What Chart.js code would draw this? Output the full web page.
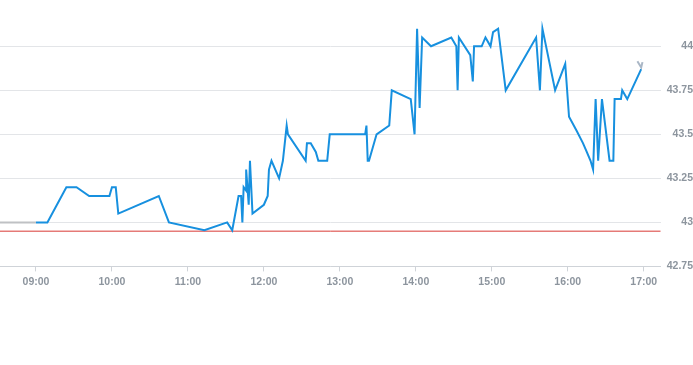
<!DOCTYPE html>
<html lang="en">

<head>
    <meta charset="UTF-8">
    <title>Intraday</title>
    <script src="https://cdn.jsdelivr.net/npm/chart.js"></script>
    <style>
        html, body {
            margin: 0;
            padding: 0;
            background-color: #ffffff;
        }

        .div-grafico {
            position: relative;
            width: 693px;
            height: 365px;
        }
    </style>
</head>

<body>
    <div class="div-grafico">
        <canvas id="intraday"></canvas>
    </div>

<script>
    // trading session (blue)
    var horas = ['09:00', '09:09', '09:24', '09:32', '09:42', '09:58', '10:00', '10:03', '10:05', '10:37',
        '10:45', '11:13', '11:31', '11:35', '11:40', '11:42', '11:43', '11:44', '11:46', '11:46',
        '11:48', '11:49', '11:51', '12:00', '12:03', '12:04', '12:06', '12:12', '12:15', '12:18',
        '12:19', '12:33', '12:34', '12:37', '12:41', '12:43', '12:50', '12:52', '13:20', '13:21',
        '13:22', '13:23', '13:29', '13:39', '13:41', '13:56', '13:59', '14:01', '14:03', '14:05',
        '14:12', '14:28', '14:32', '14:33', '14:34', '14:43', '14:45', '14:46', '14:52', '14:55',
        '14:59', '15:01', '15:05', '15:11', '15:35', '15:38', '15:40', '15:50', '15:58', '16:01',
        '16:07', '16:12', '16:15', '16:18', '16:20', '16:22', '16:24', '16:27', '16:33', '16:36',
        '16:37', '16:42', '16:43', '16:47', '16:58'];
    var precos = [43.00, 43.00, 43.20, 43.20, 43.15, 43.15, 43.20, 43.20, 43.05, 43.15,
        43.00, 42.955, 43.00, 42.955, 43.15, 43.15, 43.00, 43.20, 43.18, 43.30,
        43.10, 43.35, 43.05, 43.10, 43.15, 43.30, 43.35, 43.25, 43.35, 43.55,
        43.50, 43.35, 43.45, 43.45, 43.40, 43.35, 43.35, 43.50, 43.50, 43.55,
        43.35, 43.35, 43.50, 43.55, 43.75, 43.70, 43.50, 44.10, 43.65, 44.05,
        44.00, 44.05, 44.00, 43.75, 44.05, 43.95, 43.80, 44.00, 44.00, 44.05,
        44.00, 44.08, 44.10, 43.75, 44.05, 43.75, 44.10, 43.75, 43.90, 43.60,
        43.52, 43.45, 43.40, 43.35, 43.30, 43.70, 43.35, 43.70, 43.35, 43.35,
        43.70, 43.70, 43.75, 43.70, 43.87];

    // pre-market (grey)
    var horasPre = ['08:30', '09:00'];
    var precosPre = [43.00, 43.00];

    // after close (grey)
    var horasPos = ['16:55', '16:58', '16:59'];
    var precosPos = [43.915, 43.88, 43.91];

    // previous close (red)
    var fechamentoAnterior = 42.95;

    var yTicks = [42.75, 43, 43.25, 43.5, 43.75, 44];

    function minutos(h) {
        var p = h.split(':');
        return parseInt(p[0]) * 60 + parseInt(p[1]);
    }

    function pontos(hs, vs) {
        return hs.map((h, i) => ({ x: minutos(h), y: vs[i] }));
    }

    var xMin = 9 * 60 - 36 / 76 * 60;
    var xMax = 9 * 60 + 625 / 76 * 60;

    var fonte = { family: "'Liberation Sans', Arial, sans-serif", size: 10.5, weight: 'bold' };

    var grafico = new Chart(document.getElementById('intraday').getContext('2d'), {
        type: 'line',
        data: {
            datasets: [{
                label: 'pre',
                data: pontos(horasPre, precosPre),
                borderColor: '#bfc1c4',
                borderWidth: 2,
                pointRadius: 0,
                order: 3
            }, {
                label: 'fechamento',
                data: [{ x: xMin, y: fechamentoAnterior }, { x: xMax, y: fechamentoAnterior }],
                borderColor: '#d93a35',
                borderWidth: 1,
                pointRadius: 0,
                order: 2
            }, {
                label: 'preco',
                data: pontos(horas, precos),
                borderColor: '#1790df',
                borderWidth: 2,
                pointRadius: 0,
                order: 1
            }, {
                label: 'pos',
                data: pontos(horasPos, precosPos),
                borderColor: '#aab7c6',
                borderWidth: 2,
                pointRadius: 0,
                order: 0
            }]
        },
        options: {
            responsive: true,
            maintainAspectRatio: false,
            animation: false,
            layout: {
                padding: { top: 0, left: 0, right: 0, bottom: 73 }
            },
            plugins: {
                legend: { display: false },
                tooltip: { enabled: false }
            },
            scales: {
                x: {
                    type: 'linear',
                    min: xMin,
                    max: xMax,
                    grid: {
                        drawOnChartArea: false,
                        drawTicks: true,
                        tickLength: 5,
                        color: '#cfd3d8'
                    },
                    border: { display: true, color: '#cfd3d8' },
                    ticks: {
                        stepSize: 60,
                        includeBounds: false,
                        autoSkip: false,
                        maxRotation: 0,
                        padding: 4,
                        color: '#8d959e',
                        font: fonte,
                        callback: function (v) {
                            var h = Math.floor(v / 60);
                            var m = Math.round(v % 60);
                            return String(h).padStart(2, '0') + ':' + String(m).padStart(2, '0');
                        }
                    }
                },
                y: {
                    position: 'right',
                    min: 42.75,
                    max: 44.21,
                    afterBuildTicks: function (axis) {
                        axis.ticks = yTicks.map(v => ({ value: v }));
                    },
                    grid: {
                        drawTicks: false,
                        color: '#e3e5e8'
                    },
                    border: { display: false },
                    ticks: {
                        crossAlign: 'far',
                        padding: 3,
                        color: '#8d959e',
                        font: fonte,
                        callback: function (v) {
                            return String(v);
                        }
                    }
                }
            }
        }
    });
</script>
</body>

</html>
